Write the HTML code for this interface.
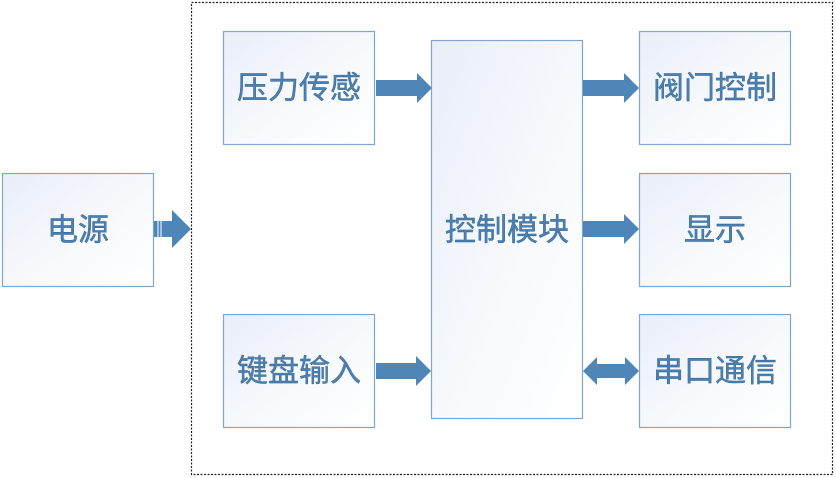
<!DOCTYPE html>
<html><head><meta charset="utf-8"><style>
html,body{margin:0;padding:0;background:#fff;width:836px;height:478px;overflow:hidden}
text{font-family:"Liberation Sans","Noto Sans CJK SC",sans-serif;font-size:31px;fill:#4a80b2;stroke:#2f5f8c;stroke-width:0.4;text-anchor:middle;dominant-baseline:central}
</style></head><body>
<svg width="836" height="478" viewBox="0 0 836 478" xmlns="http://www.w3.org/2000/svg">
<defs>
<linearGradient id="g" x1="0" y1="0" x2="1" y2="1">
<stop offset="0" stop-color="#e9eef8"/><stop offset="0.6" stop-color="#f8fafd"/><stop offset="1" stop-color="#ffffff"/>
</linearGradient>
</defs>
<rect x="191.5" y="2.5" width="641" height="472" fill="none" stroke="#222" stroke-width="1.2" stroke-dasharray="2,1.5"/>
<g fill="url(#g)" stroke="#7ea6cf" stroke-width="1.2">
<rect x="2.5" y="173.5" width="151" height="113"/>
<rect x="223.5" y="31.5" width="151" height="113"/>
<rect x="223.5" y="314.5" width="151" height="113"/>
<rect x="431.5" y="40.5" width="151" height="378"/>
<rect x="639.5" y="31.5" width="151" height="113"/>
<rect x="639.5" y="173.5" width="151" height="113"/>
<rect x="639.5" y="314.5" width="151" height="113"/>
</g>
<g fill="#4f86b8">
<polygon points="376,80 417,80 417,73 432,88 417,103 417,96 376,96"/>
<polygon points="376,363 416,363 416,356 431,371 416,386 416,379 376,379"/>
<polygon points="583,80 624,80 624,73 639,88 624,103 624,96 583,96"/>
<polygon points="583,221 624,221 624,214 639,229 624,244 624,237 583,237"/>
<polygon points="583,371 597,357 597,364 625,364 625,357 639,371 625,385 625,378 597,378 597,385"/>
<polygon points="154,221 172,221 172,210 191,229 172,248 172,237 154,237"/>
</g>
<g stroke="#fff" stroke-width="1"><line x1="158" y1="221" x2="158" y2="237"/><line x1="161" y1="221" x2="161" y2="237"/></g>
<text x="78" y="230">电源</text>
<text x="299" y="88">压力传感</text>
<text x="299" y="371">键盘输入</text>
<text x="507" y="230">控制模块</text>
<text x="715" y="88">阀门控制</text>
<text x="715" y="230">显示</text>
<text x="715" y="371">串口通信</text>
</svg>
</body></html>
